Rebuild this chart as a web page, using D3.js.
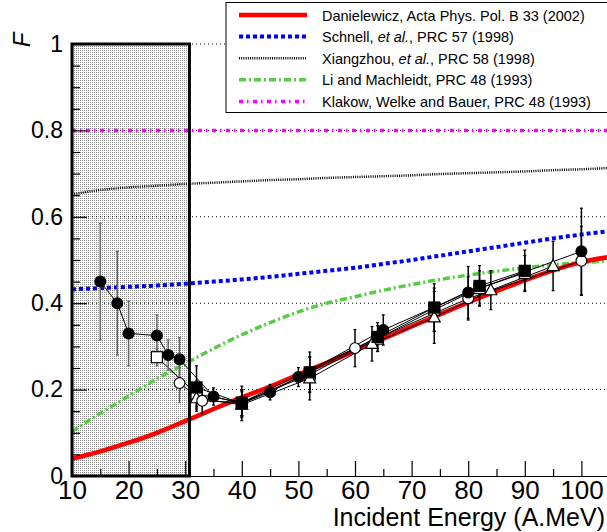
<!DOCTYPE html>
<html lang="en">
<head>
<meta charset="UTF-8">
<title>F vs incident energy</title>
<script src="https://d3js.org/d3.v7.min.js"></script>
<style>
  body { margin: 0; background: #fff; }
  svg { display: block; font-family: "Liberation Sans", Arial, sans-serif; }
  .axis path, .axis line { stroke: #000; stroke-width: 1.2px; }
  .axis text { fill: #000; }
  .grid { stroke: #000; stroke-width: 1; stroke-dasharray: 1,3; }
</style>
</head>
<body>
<svg id="chart" width="607" height="532"></svg>
<script>
// theory curves
const curveE = [10, 15, 20, 25, 30, 35, 40, 45, 50, 55, 60, 65, 70, 75, 80, 85, 90, 95, 100, 105];
const danielewicz = [0.04, 0.057, 0.077, 0.10, 0.127, 0.155, 0.182, 0.207, 0.235, 0.262, 0.29, 0.318, 0.346, 0.374, 0.402, 0.428, 0.453, 0.476, 0.495, 0.507];
const schnell = [0.432, 0.435, 0.438, 0.441, 0.445, 0.45, 0.455, 0.461, 0.468, 0.475, 0.482, 0.491, 0.5, 0.51, 0.52, 0.53, 0.54, 0.55, 0.559, 0.567];
const xiangzhou = [0.652, 0.662, 0.668, 0.672, 0.676, 0.679, 0.682, 0.685, 0.687, 0.69, 0.692, 0.694, 0.696, 0.699, 0.701, 0.703, 0.705, 0.708, 0.71, 0.713];
const liMachleidt = [0.103, 0.145, 0.185, 0.225, 0.26, 0.295, 0.327, 0.355, 0.38, 0.4, 0.415, 0.43, 0.443, 0.455, 0.465, 0.474, 0.482, 0.489, 0.494, 0.498];
const klakow = [0.8, 0.8, 0.8, 0.8, 0.8, 0.8, 0.8, 0.8, 0.8, 0.8, 0.8, 0.8, 0.8, 0.8, 0.8, 0.8, 0.8, 0.8, 0.8, 0.8];

// data sets
const fcE = [15, 18, 20, 25, 27, 29, 35, 40, 45, 50, 65, 80, 100];
const fcF = [0.45, 0.40, 0.33, 0.325, 0.28, 0.27, 0.184, 0.168, 0.194, 0.229, 0.338, 0.425, 0.52];
const fcErr = [0.135, 0.12, 0.075, 0.048, 0.035, 0.05, 0.02, 0.03, 0.018, 0.022, 0.035, 0.06, 0.1];

const osE = [25, 32, 40, 52, 64, 74, 82, 90];
const osF = [0.275, 0.19, 0.17, 0.235, 0.318, 0.385, 0.435, 0.47];
const osErr = [0.02, 0.03, 0.03, 0.04, 0.03, 0.05, 0.04, 0.04];

const fsE = [32, 40, 52, 64, 74, 82, 90];
const fsF = [0.205, 0.168, 0.24, 0.322, 0.39, 0.44, 0.475];
const fsErr = [0.05, 0.04, 0.047, 0.033, 0.055, 0.047, 0.048];

const ocE = [29, 33, 40, 60, 80, 100];
const ocF = [0.215, 0.174, 0.17, 0.296, 0.411, 0.498];
const ocErr = [0.045, 0.03, 0.03, 0.043, 0.05, 0.08];

const otE = [32, 40, 52, 63, 74, 84, 95];
const otF = [0.18, 0.165, 0.226, 0.306, 0.367, 0.43, 0.486];
const otErr = [0.03, 0.03, 0.05, 0.04, 0.06, 0.045, 0.057];

const shadedRange = [10, 30.75];
const yTicks = [0, 0.2, 0.4, 0.6, 0.8, 1];
const xTicks = [10, 20, 30, 40, 50, 60, 70, 80, 90, 100];

const svg = d3.select("#chart");
const x = d3.scaleLinear().domain([10, 105]).range([72, 609.7]);
const y = d3.scaleLinear().domain([0, 1]).range([476, 44]);

// stipple pattern for the excluded region
const defs = svg.append("defs");
const pat = defs.append("pattern").attr("id", "stip")
  .attr("patternUnits", "userSpaceOnUse").attr("width", 2).attr("height", 2);
pat.append("rect").attr("width", 2).attr("height", 2).attr("fill", "#fff");
pat.append("rect").attr("width", 1).attr("height", 1).attr("fill", "#8c8c8c");
defs.append("clipPath").attr("id", "plot")
  .append("rect").attr("x", 72).attr("y", 0).attr("width", 540).attr("height", 477);

svg.append("rect")
  .attr("x", x(shadedRange[0])).attr("y", y(1))
  .attr("width", x(shadedRange[1]) - x(shadedRange[0]))
  .attr("height", y(0) - y(1))
  .attr("fill", "url(#stip)");

// dotted grid lines
svg.append("g").selectAll("line")
  .data(yTicks.filter(d => d > 0))
  .join("line")
  .attr("class", "grid")
  .attr("x1", x(10)).attr("x2", 607)
  .attr("y1", d => y(d)).attr("y2", d => y(d));

// theory curves
const theory = [
  { name: "Danielewicz", vals: danielewicz, color: "#ff0000", width: 4.5, dash: null },
  { name: "Schnell", vals: schnell, color: "#0000ff", width: 4, dash: "4,3" },
  { name: "Xiangzhou", vals: xiangzhou, color: "#000", width: 2.5, dash: "1,1.2" },
  { name: "Li", vals: liMachleidt, color: "#55cc44", width: 3.5, dash: "7,3,2,3" },
  { name: "Klakow", vals: klakow, color: "#ff00ff", width: 3.5, dash: "4,4,1.5,4.5" }
];
const line = d3.line().x(d => x(d[0])).y(d => y(d[1])).curve(d3.curveMonotoneX);
const cg = svg.append("g").attr("clip-path", "url(#plot)");
theory.slice().reverse().forEach(t => {
  cg.append("path")
    .attr("d", line(curveE.map((e, i) => [e, t.vals[i]])))
    .attr("fill", "none")
    .attr("stroke", t.color)
    .attr("stroke-width", t.width)
    .attr("stroke-dasharray", t.dash);
});

// border of the excluded region
svg.append("rect")
  .attr("x", x(shadedRange[0])).attr("y", y(1))
  .attr("width", x(shadedRange[1]) - x(shadedRange[0]))
  .attr("height", y(0) - y(1))
  .attr("fill", "none").attr("stroke", "#000").attr("stroke-width", 3);

// measured data
const sets = [
  { E: osE, F: osF, err: osErr, marker: "square", filled: false },
  { E: otE, F: otF, err: otErr, marker: "triangle", filled: false },
  { E: ocE, F: ocF, err: ocErr, marker: "circle", filled: false },
  { E: fsE, F: fsF, err: fsErr, marker: "square", filled: true },
  { E: fcE, F: fcF, err: fcErr, marker: "circle", filled: true }
];
const dataLine = d3.line().x(d => x(d[0])).y(d => y(d[1]));
const dg = svg.append("g");
sets.forEach(s => {
  const pts = s.E.map((e, i) => [e, s.F[i], s.err[i]]);
  dg.append("path").attr("d", dataLine(pts))
    .attr("fill", "none").attr("stroke", "#000").attr("stroke-width", 1);
  pts.forEach(p => {
    const col = p[0] < shadedRange[1] ? "#666" : "#000";
    const cx = x(p[0]);
    dg.append("line").attr("x1", cx).attr("x2", cx)
      .attr("y1", y(p[1] - p[2])).attr("y2", y(p[1] + p[2]))
      .attr("stroke", col).attr("stroke-width", 1.5);
    [p[1] - p[2], p[1] + p[2]].forEach(v => {
      dg.append("line").attr("x1", cx - 1.5).attr("x2", cx + 1.5)
        .attr("y1", y(v)).attr("y2", y(v))
        .attr("stroke", col).attr("stroke-width", 1.2);
    });
  });
});
sets.forEach(s => {
  s.E.forEach((e, i) => {
    const cx = x(e), cy = y(s.F[i]);
    const fill = s.filled ? "#000" : "#fff";
    let m;
    if (s.marker === "circle") {
      m = dg.append("circle").attr("cx", cx).attr("cy", cy).attr("r", 5.4);
    } else if (s.marker === "square") {
      m = dg.append("rect").attr("x", cx - 5.5).attr("y", cy - 5.5).attr("width", 11).attr("height", 11);
    } else {
      m = dg.append("path").attr("d", `M${cx},${cy - 6.5}L${cx + 6},${cy + 4.5}L${cx - 6},${cy + 4.5}Z`);
    }
    m.attr("fill", fill).attr("stroke", "#000").attr("stroke-width", 1.2);
  });
});

// axes
const yAxis = svg.append("g").attr("class", "axis").attr("transform", `translate(${x(10)},0)`)
  .call(d3.axisLeft(y).tickValues(yTicks).tickSizeInner(-15).tickSizeOuter(0).tickPadding(9)
    .tickFormat(d => d === 0 ? "0" : d === 1 ? "1" : d3.format(".1f")(d)));
yAxis.selectAll("text").attr("font-size", 23);
svg.append("g").attr("class", "axis").attr("transform", `translate(${x(10)},0)`)
  .call(d3.axisLeft(y).tickValues(d3.range(0.05, 1, 0.05).filter(v => Math.abs(v * 5 - Math.round(v * 5)) > 1e-6))
    .tickSizeInner(-8).tickSizeOuter(0).tickFormat(""))
  .select(".domain").remove();

const xAxis = svg.append("g").attr("class", "axis").attr("transform", `translate(0,${y(0)})`)
  .call(d3.axisBottom(x).tickValues(xTicks).tickSizeInner(-15).tickSizeOuter(0).tickPadding(5));
xAxis.selectAll("text").attr("font-size", 26);
svg.append("g").attr("class", "axis").attr("transform", `translate(0,${y(0)})`)
  .call(d3.axisBottom(x).tickValues(d3.range(15, 105, 10)).tickSizeInner(-7).tickSizeOuter(0).tickFormat(""))
  .select(".domain").remove();

svg.append("text")
  .attr("x", 605).attr("y", 526)
  .attr("text-anchor", "end")
  .attr("font-size", 25)
  .text("Incident Energy (A.MeV)");

svg.append("text")
  .attr("transform", "translate(30,40) rotate(-90)")
  .attr("text-anchor", "middle")
  .attr("font-size", 24)
  .attr("font-style", "italic")
  .text("F");

// legend
const legend = svg.append("g");
legend.append("rect").attr("x", 226).attr("y", 2.5).attr("width", 400).attr("height", 110)
  .attr("fill", "#fff").attr("stroke", "#000").attr("stroke-width", 1);
const labels = [
  ["Danielewicz, Acta Phys. Pol. B 33 (2002)"],
  ["Schnell, ", "et al.", ", PRC 57 (1998)"],
  ["Xiangzhou, ", "et al.", ", PRC 58 (1998)"],
  ["Li and Machleidt, PRC 48 (1993)"],
  ["Klakow, Welke and Bauer, PRC 48 (1993)"]
];
theory.forEach((t, i) => {
  const ly = 15 + i * 21.6;
  legend.append("line").attr("x1", 239).attr("x2", 307).attr("y1", ly).attr("y2", ly)
    .attr("stroke", t.color).attr("stroke-width", t.width).attr("stroke-dasharray", t.dash);
  const txt = legend.append("text").attr("x", 322).attr("y", ly + 5.5).attr("font-size", 14.5);
  labels[i].forEach(part => {
    txt.append("tspan").attr("font-style", part === "et al." ? "italic" : null).text(part);
  });
});
</script>
</body>
</html>
